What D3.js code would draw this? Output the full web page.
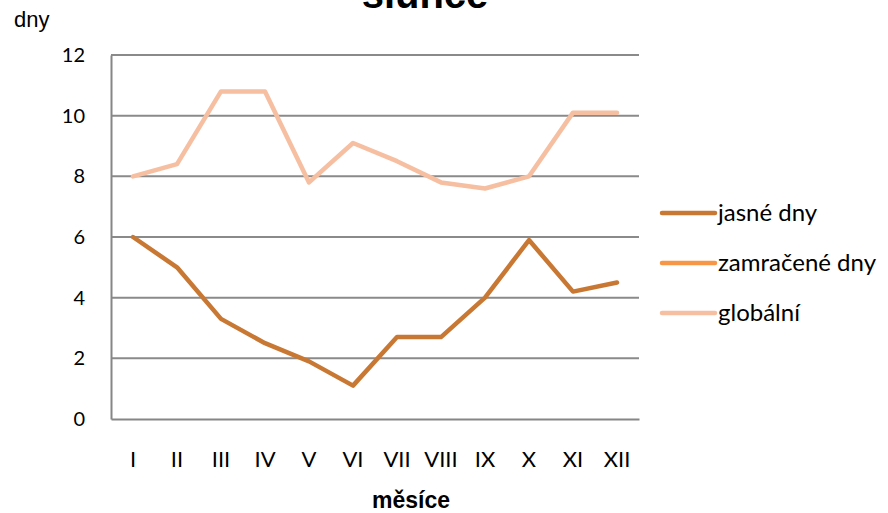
<!DOCTYPE html>
<html>
<head>
<meta charset="utf-8">
<script src="https://cdn.jsdelivr.net/npm/d3@7"></script>
<style>
  body { margin: 0; background: #fff; }
  svg { display: block; }
</style>
</head>
<body>
<div id="chart"></div>
<script>
var months = ['I', 'II', 'III', 'IV', 'V', 'VI', 'VII', 'VIII', 'IX', 'X', 'XI', 'XII'];
var jasne = [6.0, 5.0, 3.3, 2.5, 1.9, 1.1, 2.7, 2.7, 4.0, 5.9, 4.2, 4.5];
var zamracene = [];
var globalni = [8.0, 8.4, 10.8, 10.8, 7.8, 9.1, 8.5, 7.8, 7.6, 8.0, 10.1, 10.1];
var yTicks = [0, 2, 4, 6, 8, 10, 12];

var series = [
    { name: 'jasné dny', values: jasne, color: '#c97834' },
    { name: 'zamračené dny', values: zamracene, color: '#f79646' },
    { name: 'globální', values: globalni, color: '#f6bfa1' }
];

var width = 888, height = 513;
var margin = { left: 111, right: 249, top: 55, bottom: 94 };
var labelFont = 'Lato, "Open Sans", sans-serif';

var svg = d3.select('#chart')
    .append('svg')
    .attr('width', width)
    .attr('height', height);

var x = d3.scaleBand()
    .domain(months)
    .range([margin.left, width - margin.right]);

var y = d3.scaleLinear()
    .domain([0, 12])
    .range([height - margin.bottom, margin.top]);

// gridlines
svg.append('g')
    .selectAll('line')
    .data(yTicks.filter(function(d) { return d > 0; }))
    .enter().append('line')
    .attr('x1', margin.left)
    .attr('x2', width - margin.right)
    .attr('y1', function(d) { return y(d); })
    .attr('y2', function(d) { return y(d); })
    .attr('stroke', '#8a8a8a')
    .attr('stroke-width', 2);

// y axis
var yAxis = svg.append('g')
    .attr('transform', 'translate(' + margin.left + ',0)')
    .call(d3.axisLeft(y).tickValues(yTicks).tickSize(0).tickPadding(26));
yAxis.select('.domain').attr('stroke', '#868686').attr('stroke-width', 2);
yAxis.selectAll('text')
    .style('font-family', labelFont)
    .style('font-size', '20px')
    .attr('fill', '#000');

// x axis
var xAxis = svg.append('g')
    .attr('transform', 'translate(0,' + (height - margin.bottom) + ')')
    .call(d3.axisBottom(x).tickSize(0).tickPadding(32));
xAxis.select('.domain').attr('stroke', '#868686').attr('stroke-width', 2);
xAxis.selectAll('text')
    .style('font-family', labelFont)
    .style('font-size', '22px')
    .attr('fill', '#000');

// lines
var line = d3.line()
    .x(function(d, i) { return x(months[i]) + x.bandwidth() / 2; })
    .y(function(d) { return y(d); });

svg.append('g')
    .selectAll('path')
    .data(series.slice().reverse())
    .enter().append('path')
    .attr('d', function(s) { return s.values.length ? line(s.values) : null; })
    .attr('fill', 'none')
    .attr('stroke', function(s) { return s.color; })
    .attr('stroke-width', 4.5)
    .attr('stroke-linejoin', 'round')
    .attr('stroke-linecap', 'round');

// legend
var legend = svg.append('g')
    .selectAll('g')
    .data(series)
    .enter().append('g')
    .attr('transform', function(d, i) { return 'translate(662,' + (213 + i * 50) + ')'; });
legend.append('line')
    .attr('x1', 0).attr('x2', 53)
    .attr('stroke', function(d) { return d.color; })
    .attr('stroke-width', 4.5)
    .attr('stroke-linecap', 'round');
legend.append('text')
    .attr('x', 56)
    .attr('dy', '0.35em')
    .style('font-family', labelFont)
    .style('font-size', '24px')
    .text(function(d) { return d.name; });

// titles
svg.append('text')
    .attr('x', 425)
    .attr('y', 8)
    .attr('text-anchor', 'middle')
    .style('font-family', 'Arial, "Liberation Sans", sans-serif')
    .style('font-weight', 'bold')
    .style('font-size', '40px')
    .text('slunce');

svg.append('text')
    .attr('x', 14)
    .attr('y', 27)
    .style('font-family', 'Arial, "Liberation Sans", sans-serif')
    .style('font-size', '22px')
    .text('dny');

svg.append('text')
    .attr('x', 411)
    .attr('y', 508)
    .attr('text-anchor', 'middle')
    .style('font-family', 'Arial, "Liberation Sans", sans-serif')
    .style('font-weight', 'bold')
    .style('font-size', '23px')
    .text('měsíce');
</script>
</body>
</html>
